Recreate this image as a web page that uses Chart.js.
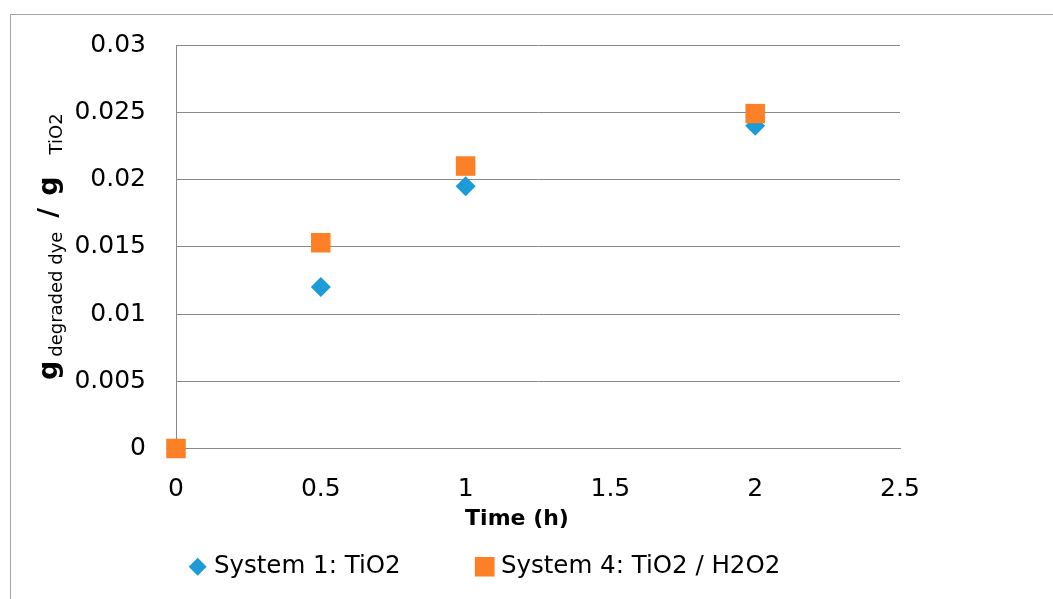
<!DOCTYPE html>
<html>
<head>
<meta charset="utf-8">
<script src="https://cdn.jsdelivr.net/npm/chart.js@4/dist/chart.umd.min.js"></script>
<style>
body{margin:0;background:#fff;}
#wrap{width:1053px;height:599px;}
</style>
</head>
<body>
<div id="wrap"><canvas id="chart" width="1053" height="599"></canvas></div>
<script>
/* ================= DATA ================= */
const timeH=[0,0.5,1,2];
const system1=[0,0.012,0.0195,0.024];
const system4=[0,0.0153,0.021,0.0249];
const xTicks=[0,0.5,1,1.5,2,2.5];
const yTicks=[0,0.005,0.01,0.015,0.02,0.025,0.03];
const seriesNames=["System 1: TiO2","System 4: TiO2 / H2O2"];
const xTitle="Time (h)";
const yTitleParts=[["g","big"],["degraded dye","sub"],["/","big"],["g","big"],["TiO2","sub"]];

const FONT="'DejaVu Sans'";
const GRID="#898989";

/* ================= PLUGINS ================= */
const frame={
id:"frame",
beforeDraw(chart){
const c=chart.ctx;
c.save();
c.fillStyle="#fff";
c.fillRect(0,0,chart.width,chart.height);
c.strokeStyle="#a6a6a6";
c.lineWidth=1;
c.strokeRect(10.5,14.5,chart.width+20,chart.height+20);
c.restore();
}
};

const titles={
id:"titles",
afterDraw(chart){
const c=chart.ctx,a=chart.chartArea;
c.save();
// x title
c.fillStyle="#000";
c.font="bold 22px "+FONT;
c.textAlign="center";
c.textBaseline="alphabetic";
c.fillText(xTitle,(a.left+a.right)/2-21,525);
// y title with subscripts, rotated
const fonts={big:"bold 27px "+FONT,sub:"18px "+FONT};
const shift={big:0,sub:5};
const gaps=[4,14,12,22,0];
let total=0;
yTitleParts.forEach((p,i)=>{c.font=fonts[p[1]];total+=c.measureText(p[0]).width+gaps[i];});
c.translate(57,(a.top+a.bottom)/2);
c.rotate(-Math.PI/2);
c.textAlign="left";
let x=-total/2;
yTitleParts.forEach((p,i)=>{
c.font=fonts[p[1]];
c.fillText(p[0],x,shift[p[1]]);
x+=c.measureText(p[0]).width+gaps[i];
});
c.restore();
}
};

/* ================= CHART ================= */
const defaultLabels=Chart.defaults.plugins.legend.labels.generateLabels;

new Chart(document.getElementById("chart"),{
type:"scatter",
data:{
datasets:[{
label:seriesNames[0],
data:timeH.map((t,i)=>({x:t,y:system1[i]})),
backgroundColor:"#1c9bd7",
borderColor:"#1c9bd7",
pointStyle:"rectRot",
pointRadius:10,
pointHoverRadius:10,
pointBorderWidth:0,
clip:false,
order:1
},{
label:seriesNames[1],
data:timeH.map((t,i)=>({x:t,y:system4[i]})),
backgroundColor:"#fd7f26",
borderColor:"#fd7f26",
pointStyle:"rect",
pointRadius:13.8,
pointHoverRadius:13.8,
pointBorderWidth:0,
clip:false,
order:0
}]
},
options:{
responsive:false,
animation:false,
devicePixelRatio:1,
layout:{padding:{left:74,right:153,top:43,bottom:10}},
plugins:{
tooltip:{enabled:false},
legend:{
position:"bottom",
labels:{
usePointStyle:true,
boxWidth:8,
boxHeight:12.7,
padding:10,
color:"#000",
font:{family:FONT,size:24.5},
generateLabels(chart){
const items=defaultLabels(chart).sort((a,b)=>a.datasetIndex-b.datasetIndex);
items.forEach(it=>{
const sq=it.datasetIndex===1;
it.lineWidth=sq?7:0;
it.strokeStyle=it.fillStyle;
if(!sq)it.text=it.text+"         ";
});
return items;
}
}
}
},
scales:{
x:{
type:"linear",
min:0,max:2.5,
afterBuildTicks(s){s.ticks=xTicks.map(v=>({value:v}));},
afterFit(s){s.height=96;},
grid:{display:false,drawTicks:false},
border:{display:true,color:GRID,width:1},
ticks:{padding:26,color:"#000",font:{family:FONT,size:25},callback:v=>String(v)}
},
y:{
min:0,max:0.03,
afterBuildTicks(s){s.ticks=yTicks.map(v=>({value:v}));},
afterFit(s){s.width=102;},
grid:{color:GRID,lineWidth:1,drawTicks:false},
border:{display:true,color:GRID,width:1},
ticks:{padding:30,color:"#000",font:{family:FONT,size:25},callback:v=>String(v)}
}
}
},
plugins:[frame,titles]
});
</script>
</body>
</html>
